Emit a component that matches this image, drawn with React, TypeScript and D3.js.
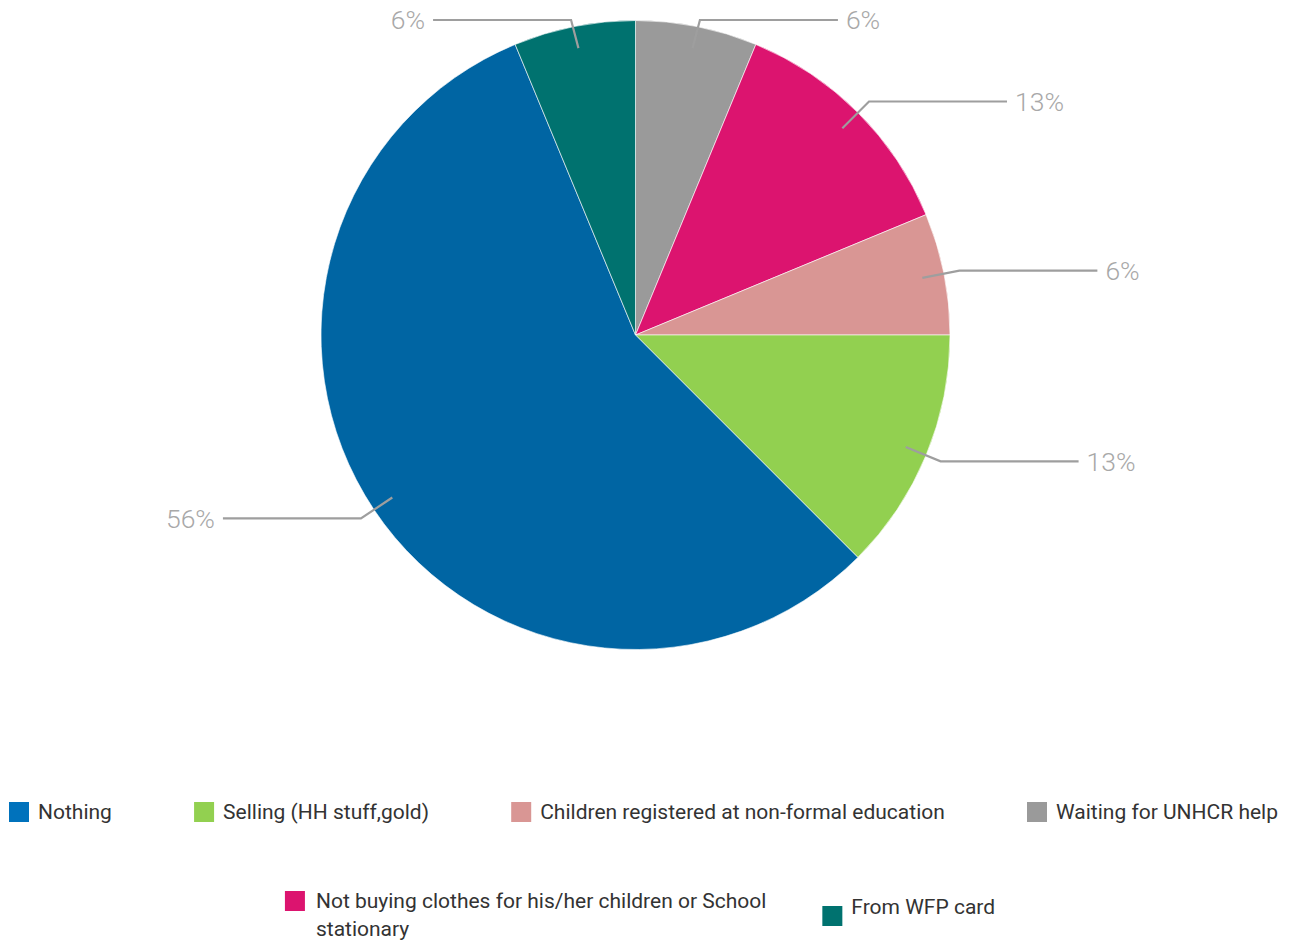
import React, { useEffect, useRef } from "react";
import * as d3 from "d3";

// ---- data ----
const categories = [
  "Nothing",
  "Selling (HH stuff,gold)",
  "Children registered at non-formal education",
  "Waiting for UNHCR help",
  "Not buying clothes for his/her children or School stationary",
  "From WFP card",
];
const counts = [9, 2, 1, 1, 2, 1];
const sliceColors = ["#0065A3", "#92D050", "#D99694", "#9A9A9A", "#DC146F", "#00726F"];
const legendColors = ["#0072BC", "#92D050", "#D99694", "#9A9A9A", "#DC146F", "#00726F"];
// clockwise drawing order starting at 12 o'clock
const pieOrder = [3, 4, 2, 1, 0, 5];
// legend rows (indices into categories)
const legendRow1 = [0, 1, 2, 3];
const legendRow2 = [4, 5];

const W = 1289;
const H = 940;
const FONT = "Roboto, 'Noto Sans', sans-serif";

export default function App() {
  const ref = useRef<SVGSVGElement | null>(null);

  useEffect(() => {
    const svg = d3.select(ref.current);
    svg.selectAll("*").remove();

    const cx = 635.5;
    const cy = 335;
    const R = 314.5;
    const total = d3.sum(counts);

    const items = pieOrder.map((i) => ({ i, v: counts[i] }));
    const pie = d3.pie<{ i: number; v: number }>().sort(null).value((d) => d.v);
    const arcs = pie(items);
    const arc = d3.arc<d3.PieArcDatum<{ i: number; v: number }>>().innerRadius(0).outerRadius(R);

    const g = svg.append("g").attr("transform", `translate(${cx},${cy})`);
    g.selectAll("path.slice")
      .data(arcs)
      .join("path")
      .attr("class", "slice")
      .attr("d", arc as any)
      .attr("fill", (d) => sliceColors[d.data.i])
      .attr("stroke", "#ffffff")
      .attr("stroke-opacity", 0.6)
      .attr("stroke-width", 1);

    // leader lines + labels
    const lab = g.append("g");
    const minY = -cy + 20;
    arcs.forEach((d) => {
      const a = (d.startAngle + d.endAngle) / 2;
      const sx = Math.sin(a), sy = -Math.cos(a);
      const p0 = [sx * R * 0.93, sy * R * 0.93];
      const p1 = [sx * R * 1.05, Math.max(sy * R * 1.05, minY)];
      const side = sx >= 0 ? 1 : -1;
      const p2 = [p1[0] + side * 138, p1[1]];
      lab.append("polyline")
        .attr("points", [p0, p1, p2].map((p) => p.join(",")).join(" "))
        .attr("fill", "none")
        .attr("stroke", "#9E9E9E")
        .attr("stroke-width", 2.2);
      lab.append("text")
        .attr("x", p2[0] + side * 8)
        .attr("y", p2[1])
        .attr("dy", "0.35em")
        .attr("text-anchor", side > 0 ? "start" : "end")
        .attr("font-family", FONT)
        .attr("font-weight", 300)
        .attr("font-size", 26.5)
        .attr("fill", "#A8A8A8")
        .text(Math.round((d.data.v / total) * 100) + "%");
    });

    // legend
    const leg = svg.append("g").attr("font-family", FONT).attr("font-size", 21).attr("fill", "#333333");
    const box = 20, pad = 29;
    const probe = leg.append("text");
    const measure = (s: string) => {
      probe.text(s);
      return (probe.node() as SVGTextElement).getComputedTextLength();
    };

    // row 1: spread across width
    const row1 = legendRow1.map((i) => ({ i, w: measure(categories[i]) }));
    const left = 9, right = 1278;
    const totalW = d3.sum(row1, (r) => pad + r.w);
    const gap = (right - left - totalW) / (row1.length - 1);
    let x = left;
    row1.forEach((r) => {
      leg.append("rect").attr("x", x).attr("y", 812 - box / 2).attr("width", box).attr("height", box)
        .attr("fill", legendColors[r.i]);
      leg.append("text").attr("x", x + pad).attr("y", 812).attr("dy", "0.35em").text(categories[r.i]);
      x += pad + r.w + gap;
    });

    // row 2: centered, first item wraps
    const maxTextW = 470;
    const row2 = legendRow2.map((i) => {
      const words = categories[i].split(" ");
      const lines: string[] = [];
      let cur = "";
      words.forEach((w) => {
        const test = cur ? cur + " " + w : w;
        if (measure(test) > maxTextW && cur) {
          lines.push(cur);
          cur = w;
        } else cur = test;
      });
      lines.push(cur);
      const w = d3.max(lines, (l) => measure(l)) as number;
      return { i, lines, w };
    });
    probe.remove();
    const gap2 = 58;
    const tot2 = d3.sum(row2, (r) => pad + r.w) + gap2 * (row2.length - 1);
    let x2 = 640 - tot2 / 2;
    row2.forEach((r) => {
      const multi = r.lines.length > 1;
      const textY = multi ? 901 : 907;
      const boxY = multi ? 901 : 916;
      leg.append("rect").attr("x", x2).attr("y", boxY - box / 2).attr("width", box).attr("height", box)
        .attr("fill", legendColors[r.i]);
      const t = leg.append("text");
      r.lines.forEach((l, k) => {
        t.append("tspan")
          .attr("x", x2 + pad + (multi ? 2 : 0))
          .attr("y", textY + k * 28)
          .attr("dy", "0.35em")
          .text(l);
      });
      x2 += pad + r.w + gap2;
    });
  }, []);

  return (
    <div style={{ position: "absolute", left: 0, top: 0 }}>
      <svg ref={ref} width={W} height={H} style={{ display: "block", background: "#fff" }} />
    </div>
  );
}
